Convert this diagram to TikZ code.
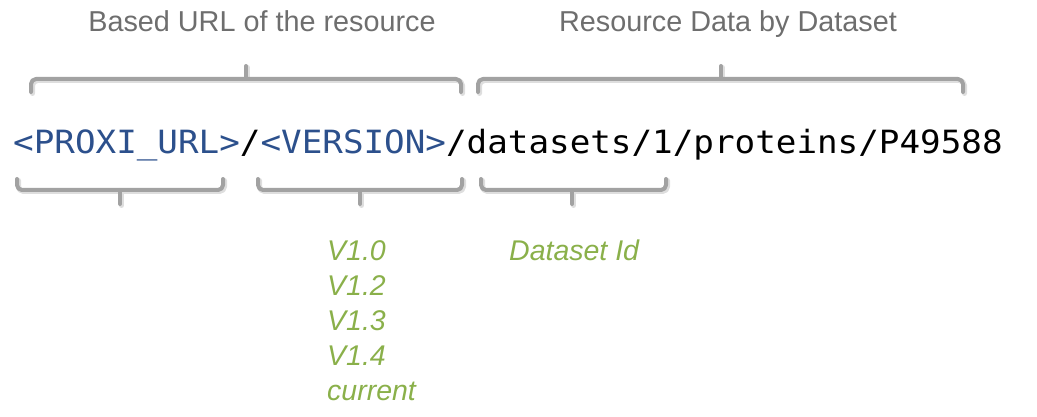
\documentclass[tikz,border=0pt]{standalone}
\usepackage{fontspec}
\setmainfont{Liberation Sans}
\newfontfamily\monofont{DejaVu Sans Mono}[FakeStretch=1.07]
\definecolor{urlblue}{RGB}{44,80,140}
\definecolor{labelgray}{RGB}{110,110,110}
\definecolor{vergreen}{RGB}{138,176,74}
\definecolor{bracegray}{RGB}{162,162,162}
\definecolor{braceshadow}{RGB}{222,222,222}
\tikzset{
  bracestroke/.style={draw=bracegray, line width=4pt, rounded corners=5pt, line cap=round, line join=round},
  braceshade/.style={draw=braceshadow, line width=5pt, rounded corners=5pt, line cap=round, line join=round},
  toplabel/.style={anchor=base, inner sep=0pt, text=labelgray, font=\fontsize{28.8}{34}\selectfont},
  greenlabel/.style={anchor=base west, inner sep=0pt, text=vergreen, font=\fontsize{28.5}{35}\selectfont\itshape},
  urltext/.style={anchor=base west, inner sep=0pt, font=\monofont\fontsize{32}{38}\selectfont}
}
% top brace: x1, x2, xm
\newcommand{\mytopbrace}[3]{%
  \draw[braceshade] ([shift={(1.5,1.5)}]#1,92) -- ([shift={(1.5,1.5)}]#1,79) -- ([shift={(1.5,1.5)}]#2,79) -- ([shift={(1.5,1.5)}]#2,92);
  \draw[braceshade] ([shift={(1.5,1.5)}]#3,79) -- ([shift={(1.5,1.5)}]#3,66);
  \draw[bracestroke] (#1,92) -- (#1,79) -- (#2,79) -- (#2,92);
  \draw[bracestroke] (#3,79) -- (#3,66);
}
\newcommand{\mybottombrace}[3]{%
  \draw[braceshade] ([shift={(1.5,1.5)}]#1,179) -- ([shift={(1.5,1.5)}]#1,190) -- ([shift={(1.5,1.5)}]#2,190) -- ([shift={(1.5,1.5)}]#2,179);
  \draw[braceshade] ([shift={(1.5,1.5)}]#3,190) -- ([shift={(1.5,1.5)}]#3,204);
  \draw[bracestroke] (#1,179) -- (#1,190) -- (#2,190) -- (#2,179);
  \draw[bracestroke] (#3,190) -- (#3,204);
}
\begin{document}
\begin{tikzpicture}[x=1pt,y=-1pt]
\useasboundingbox (0,0) rectangle (1037,417);
% labels
\node[toplabel] (base) at (262,32) {Based URL of the resource};
\node[toplabel] (data) at (728,32) {Resource Data by Dataset};
% braces
\mytopbrace{31}{461}{246}
\mytopbrace{478}{963}{721}
\mybottombrace{17}{223}{120}
\mybottombrace{258}{462}{360}
\mybottombrace{481}{666}{572}
% url
\node[urltext] (url) at (13,154) {\textcolor{urlblue}{<PROXI\_URL>}/\textcolor{urlblue}{<VERSION>}/datasets/1/proteins/P49588};
% green
\node[greenlabel] (v10) at (327,260) {V1.0};
\node[greenlabel] (v12) at (327,295) {V1.2};
\node[greenlabel] (v13) at (327,330) {V1.3};
\node[greenlabel] (v14) at (327,365) {V1.4};
\node[greenlabel] (cur) at (327,400) {current};
\node[greenlabel] (dsid) at (509,260) {Dataset Id};
\end{tikzpicture}
\end{document}
